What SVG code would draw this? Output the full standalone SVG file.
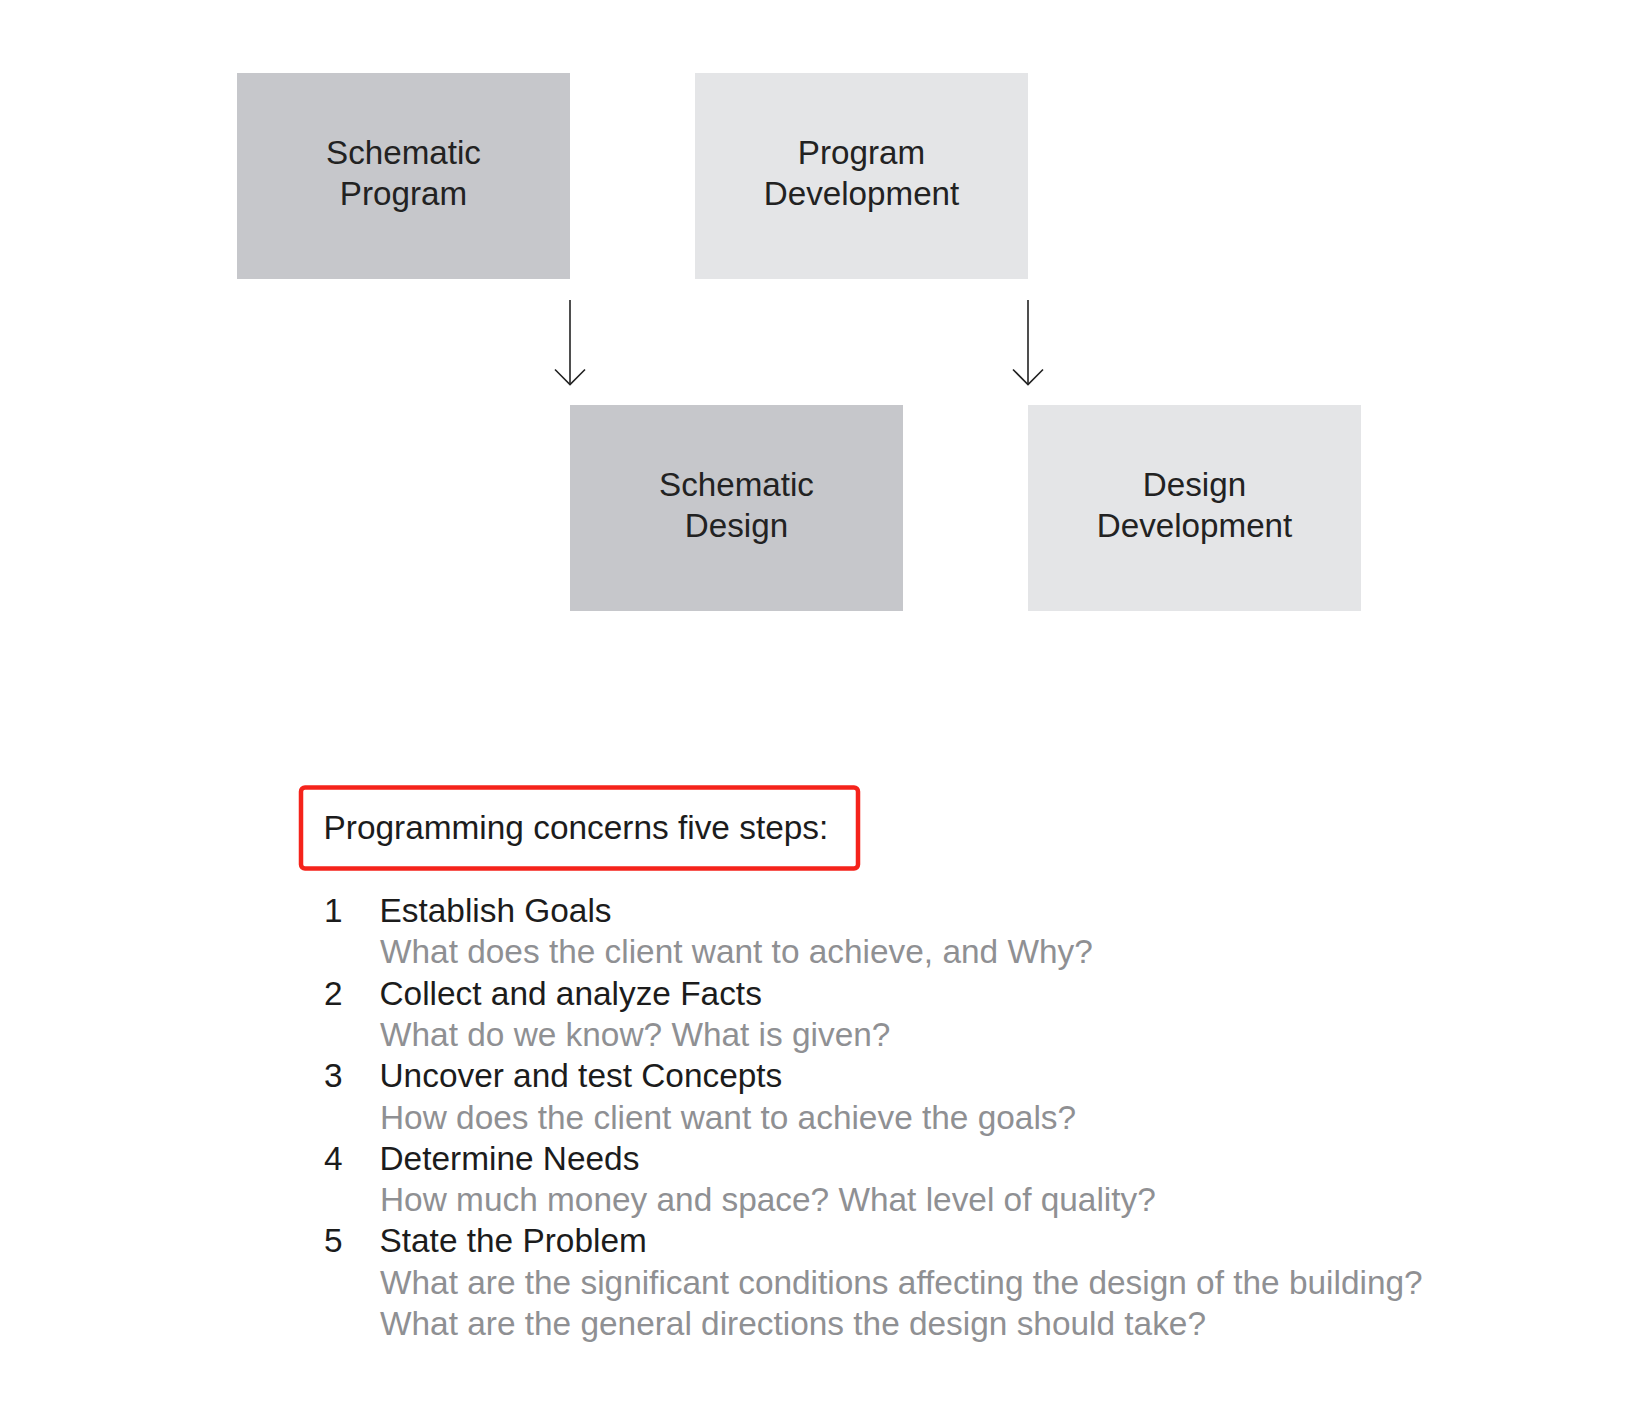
<svg xmlns="http://www.w3.org/2000/svg" width="1648" height="1417" viewBox="0 0 1648 1417">
<style>
.dark{fill:#c6c7cb}
.light{fill:#e4e5e7}
.lbl{font-family:"Liberation Sans",Arial,sans-serif;font-size:33.2px;fill:#222;text-anchor:middle}
.t{font-family:"Liberation Sans",Arial,sans-serif;font-size:33.4px;fill:#1c1c1c}
.g{font-family:"Liberation Sans",Arial,sans-serif;font-size:33.4px;fill:#8f9093}
.conn{stroke:#222;stroke-width:1.6;fill:none}
</style>
<rect width="1648" height="1417" fill="#ffffff"/>
<g id="schematic-program">
<rect class="dark" x="237" y="73" width="333" height="206"/>
<text class="lbl" x="403.5" y="163.5">Schematic</text>
<text class="lbl" x="403.5" y="205">Program</text>
</g>
<g id="program-development">
<rect class="light" x="695" y="73" width="333" height="206"/>
<text class="lbl" x="861.5" y="163.5">Program</text>
<text class="lbl" x="861.5" y="205">Development</text>
</g>
<g id="schematic-design">
<rect class="dark" x="570" y="405" width="333" height="206"/>
<text class="lbl" x="736.5" y="495.5">Schematic</text>
<text class="lbl" x="736.5" y="537">Design</text>
</g>
<g id="design-development">
<rect class="light" x="1028" y="405" width="333" height="206"/>
<text class="lbl" x="1194.5" y="495.5">Design</text>
<text class="lbl" x="1194.5" y="537">Development</text>
</g>
<g id="connectors">
<line class="conn" x1="570" y1="300" x2="570" y2="384.5"/>
<polyline class="conn" points="555,369.5 570,384.5 585,369.5"/>
<line class="conn" x1="1028" y1="300" x2="1028" y2="384.5"/>
<polyline class="conn" points="1013,369.5 1028,384.5 1043,369.5"/>
</g>
<g id="header">
<rect x="301" y="787.5" width="557" height="81" rx="4" ry="4" fill="none" stroke="#f5231b" stroke-width="4.5"/>
<text class="t" x="323.5" y="839">Programming concerns five steps:</text>
</g>
<g id="steps">
<text class="t" x="324" y="922">1</text>
<text class="t" x="379.5" y="922">Establish Goals</text>
<text class="g" x="380" y="963.3">What does the client want to achieve, and Why?</text>
<text class="t" x="324" y="1004.6">2</text>
<text class="t" x="379.5" y="1004.6">Collect and analyze Facts</text>
<text class="g" x="380" y="1045.9">What do we know? What is given?</text>
<text class="t" x="324" y="1087.2">3</text>
<text class="t" x="379.5" y="1087.2">Uncover and test Concepts</text>
<text class="g" x="380" y="1128.5">How does the client want to achieve the goals?</text>
<text class="t" x="324" y="1169.8">4</text>
<text class="t" x="379.5" y="1169.8">Determine Needs</text>
<text class="g" x="380" y="1211.1">How much money and space? What level of quality?</text>
<text class="t" x="324" y="1252.4">5</text>
<text class="t" x="379.5" y="1252.4">State the Problem</text>
<text class="g" x="380" y="1293.7">What are the significant conditions affecting the design of the building?</text>
<text class="g" x="380" y="1335">What are the general directions the design should take?</text>
</g>
</svg>
